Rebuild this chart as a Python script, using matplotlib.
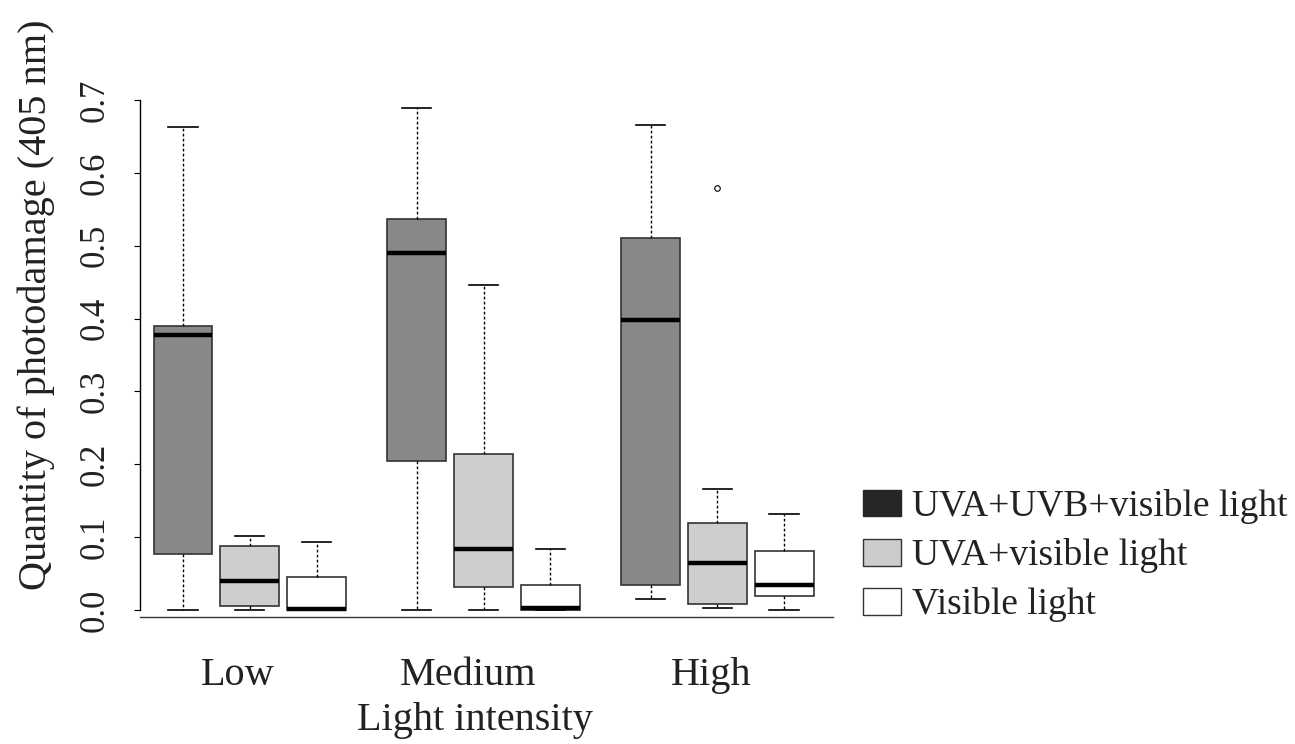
import matplotlib
matplotlib.use('Agg')
import matplotlib.pyplot as plt
from matplotlib.patches import Patch

# values (quantity of photodamage, 405 nm)
groups = ['Low', 'Medium', 'High']
series = ['UVA+UVB+visible light', 'UVA+visible light', 'Visible light']

# order: Low, Medium, High for each series
uvb_lo = [0.000, 0.000, 0.015]
uvb_q1 = [0.077, 0.205, 0.034]
uvb_med = [0.377, 0.490, 0.398]
uvb_q3 = [0.390, 0.537, 0.510]
uvb_hi = [0.663, 0.689, 0.666]
uvb_out = [[], [], []]

uva_lo = [0.000, 0.000, 0.003]
uva_q1 = [0.005, 0.031, 0.008]
uva_med = [0.040, 0.084, 0.065]
uva_q3 = [0.088, 0.214, 0.120]
uva_hi = [0.102, 0.446, 0.166]
uva_out = [[], [], [0.579]]

vis_lo = [0.000, 0.000, 0.000]
vis_q1 = [0.000, 0.000, 0.019]
vis_med = [0.002, 0.003, 0.034]
vis_q3 = [0.045, 0.034, 0.081]
vis_hi = [0.094, 0.084, 0.132]
vis_out = [[], [], []]

plt.rcParams['font.family'] = ['Liberation Serif', 'DejaVu Serif']

fig = plt.figure(figsize=(12.95, 7.44), dpi=100)
ax = fig.add_axes([0.1081, 0.1707, 0.5351, 0.7145])

face = ['#888888', '#cecece', '#ffffff']
table = [
    (uvb_lo, uvb_q1, uvb_med, uvb_q3, uvb_hi, uvb_out),
    (uva_lo, uva_q1, uva_med, uva_q3, uva_hi, uva_out),
    (vis_lo, vis_q1, vis_med, vis_q3, vis_hi, vis_out),
]

for s, (lo, q1, med, q3, hi, out) in enumerate(table):
    stats = []
    pos = []
    for g in range(len(groups)):
        stats.append(dict(whislo=lo[g], q1=q1[g], med=med[g], q3=q3[g],
                          whishi=hi[g], fliers=out[g]))
        pos.append(1 + g * 3.5 + s)
    ax.bxp(stats, positions=pos, widths=0.88, capwidths=0.44,
           patch_artist=True, showfliers=True, manage_ticks=False,
           boxprops=dict(facecolor=face[s], edgecolor='#333333', linewidth=1.2),
           medianprops=dict(color='black', linewidth=3.2, solid_capstyle='butt'),
           whiskerprops=dict(color='black', linewidth=1.0, linestyle=(0, (2, 1.6))),
           capprops=dict(color='black', linewidth=1.2),
           flierprops=dict(marker='o', markerfacecolor='none',
                           markeredgecolor='black', markersize=4,
                           markeredgewidth=0.8))

ax.set_xlim(0.356, 10.73)
ax.set_ylim(-0.0096, 0.72)

ax.spines['top'].set_visible(False)
ax.spines['right'].set_visible(False)
ax.spines['left'].set_bounds(0, 0.7)
ax.spines['left'].set_linewidth(1.0)
ax.spines['bottom'].set_linewidth(1.0)
ax.spines['bottom'].set_color('#333333')

ax.set_yticks([0.0, 0.1, 0.2, 0.3, 0.4, 0.5, 0.6, 0.7])
ax.set_yticklabels(['0.0', '0.1', '0.2', '0.3', '0.4', '0.5', '0.6', '0.7'])
ax.tick_params(axis='y', length=4.3, width=0.8, pad=16, labelsize=25,
               labelrotation=90, labelcolor='#222222')
for lbl in ax.get_yticklabels():
    lbl.set_va('center')

ax.set_xticks([1.82, 5.27, 8.9])
ax.set_xticklabels(groups)
ax.tick_params(axis='x', length=0, pad=29, labelsize=29, labelcolor='#222222')

ax.set_ylabel('Quantity of photodamage (405 nm)', fontsize=29, color='#222222')
ax.yaxis.set_label_coords(-0.123, 0.587)
ax.set_xlabel('Light intensity', fontsize=29, color='#222222')
ax.xaxis.set_label_coords(0.483, -0.16)

handles = [Patch(facecolor='#262626', edgecolor='#262626'),
           Patch(facecolor='#cccccc', edgecolor='#333333'),
           Patch(facecolor='#ffffff', edgecolor='#333333')]
fig.legend(handles, series, loc='upper left',
           bbox_to_anchor=(863 / 1295, 1 - 489 / 744),
           frameon=False, fontsize=27, borderpad=0, borderaxespad=0,
           handlelength=1.0, handleheight=0.72, handletextpad=0.3,
           labelspacing=0.38, labelcolor='#222222')

fig.savefig('out.png', dpi=100)
